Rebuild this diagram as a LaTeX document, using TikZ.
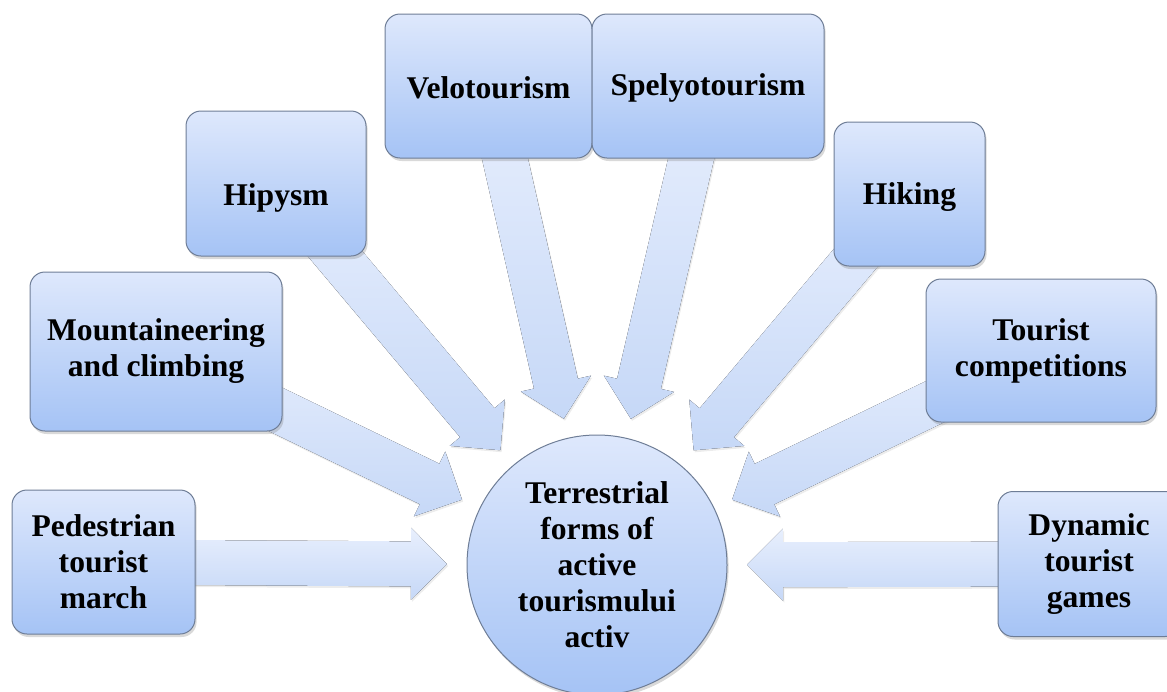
\documentclass[tikz,border=0pt]{standalone}
\usepackage{fontspec}
\setmainfont{Liberation Serif}
\usepackage{tikz}
\usetikzlibrary{calc,shadows,backgrounds}

\definecolor{boxtop}{HTML}{DEE8FC}
\definecolor{boxbot}{HTML}{A5C3F5}
\definecolor{boxline}{HTML}{6E7D96}
\definecolor{feedtop}{HTML}{E8EFFD}
\definecolor{feedbot}{HTML}{C6D8F7}

% block arrow from a box to the hub
\newcommand{\feedarrow}[1]{%
    \coordinate (tip) at ($(hub.center)!75pt!(#1.center)$);
    \coordinate (neck) at ($(tip)!18pt!(#1.center)$);
    \fill[feed] ($(#1.center)!11.25pt!90:(tip)$) -- ($(neck)!11.25pt!90:(tip)$)
        -- ($(neck)!18pt!90:(tip)$) -- (tip) -- ($(neck)!18pt!-90:(tip)$)
        -- ($(neck)!11.25pt!-90:(tip)$) -- ($(#1.center)!11.25pt!-90:(tip)$) -- cycle;
}

\begin{document}
\begin{tikzpicture}[x=0.5pt, y=-0.5pt,
    form/.style={draw=boxline, line width=0.5pt, rounded corners=7.5pt,
        top color=boxtop, bottom color=boxbot, align=center,
        font=\fontsize{15.8}{18}\selectfont\bfseries, inner sep=0pt,
        drop shadow={opacity=0.3, shadow xshift=0.8pt, shadow yshift=-1.5pt}},
    feed/.style={top color=feedtop, bottom color=feedbot,
        drop shadow={opacity=0.15, shadow xshift=0.6pt, shadow yshift=-1pt}}]
    \useasboundingbox (0,0) rectangle (1167,691);

    % centre
    \node[form, circle, rounded corners=0pt, minimum size=130pt] (hub) at (597,565)
        {Terrestrial\\forms of\\active\\tourismului\\activ};

    % boxes around
    \node[form, minimum width=91.5pt, minimum height=72pt] (ped) at (103.5,562)
        {Pedestrian\\tourist\\march};
    \node[form, minimum width=126pt, minimum height=79.5pt] (mnt) at (156,351.5)
        {Mountaineering\\and climbing};
    \node[form, minimum width=90pt, minimum height=72.5pt] (hip) at (276,183.5)
        {\raisebox{-11pt}[0pt][0pt]{Hipysm}};
    \node[form, minimum width=103.5pt, minimum height=72pt] (velo) at (488.5,86)
        {\raisebox{-6pt}[0pt][0pt]{Velotourism}};
    \node[form, minimum width=116pt, minimum height=72pt] (spel) at (708,86)
        {\raisebox{-4.5pt}[0pt][0pt]{Spelyotourism}};
    \node[form, minimum width=75.5pt, minimum height=72pt] (hik) at (909.5,194)
        {\raisebox{-5.25pt}[0pt][0pt]{Hiking}};
    \node[form, minimum width=115pt, minimum height=71.5pt] (comp) at (1041,350.5)
        {Tourist\\competitions};
    \node[form, minimum width=91pt, minimum height=72.5pt] (dyn) at (1089,564)
        {Dynamic\\tourist\\games};

    % arrows behind the boxes
    \begin{pgfonlayer}{background}
        \foreach \src in {ped,mnt,hip,velo,spel,hik,comp,dyn} {
            \feedarrow{\src}
        }
    \end{pgfonlayer}
\end{tikzpicture}
\end{document}
